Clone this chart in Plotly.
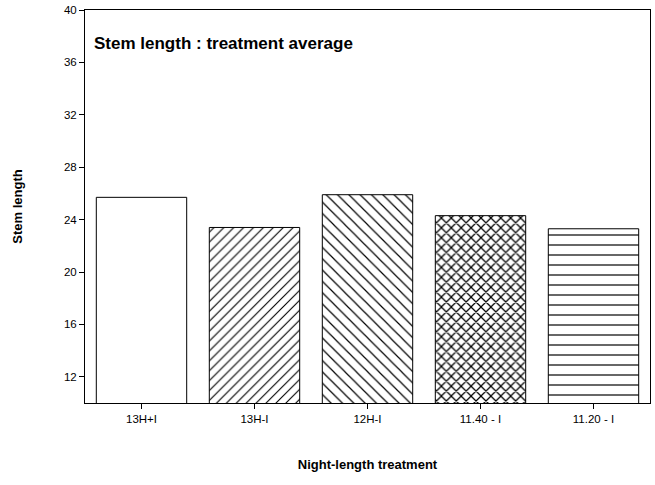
import plotly.graph_objects as go

categories = ["13H+I", "13H-I", "12H-I", "11.40 - I", "11.20 - I"]
stem_length = [25.7, 23.4, 25.9, 24.3, 23.3]
y_ticks = [12, 16, 20, 24, 28, 32, 36, 40]

shapes = ["", "/", "\\", "x", "-"]
sizes = [8, 7, 8, 7, 10]
solid = [0.15, 0.16, 0.15, 0.32, 0.12]

fig = go.Figure(go.Bar(
    x=categories, y=stem_length, width=0.8,
    marker=dict(color="white", line=dict(color="black", width=1),
                pattern=dict(shape=shapes, size=sizes, solidity=solid, fgopacity=1,
                             fgcolor="black", bgcolor="white", fillmode="overlay")),
))

fnt = "Liberation Sans, Arial, sans-serif"
fig.update_layout(
    width=655, height=485, margin=dict(l=85, r=4, t=8, b=82),
    paper_bgcolor="white", plot_bgcolor="white",
    font=dict(family=fnt, color="black", size=12),
    showlegend=False, bargap=0.2,
    annotations=[dict(text="<b>Stem length : treatment average</b>", xref="paper", yref="paper",
                      x=0.012, y=0.915, xanchor="left", yanchor="middle", showarrow=False,
                      font=dict(size=17, family=fnt, color="black"))],
)
fig.update_yaxes(range=[10, 40], tickvals=y_ticks, ticks="outside", ticklen=5, tickcolor="black",
                 showline=True, linecolor="black", linewidth=1, mirror=True, showgrid=False, zeroline=False,
                 title=dict(text="<b>Stem length</b>", font=dict(size=13), standoff=38),
                 tickfont=dict(size=11.5))
fig.update_xaxes(ticks="outside", ticklen=5, tickcolor="black", showline=True, linecolor="black",
                 linewidth=1, mirror=True, showgrid=False,
                 title=dict(text="<b>Night-length treatment</b>", font=dict(size=13), standoff=36),
                 tickfont=dict(size=11.5))

fig.write_html("out.html")
